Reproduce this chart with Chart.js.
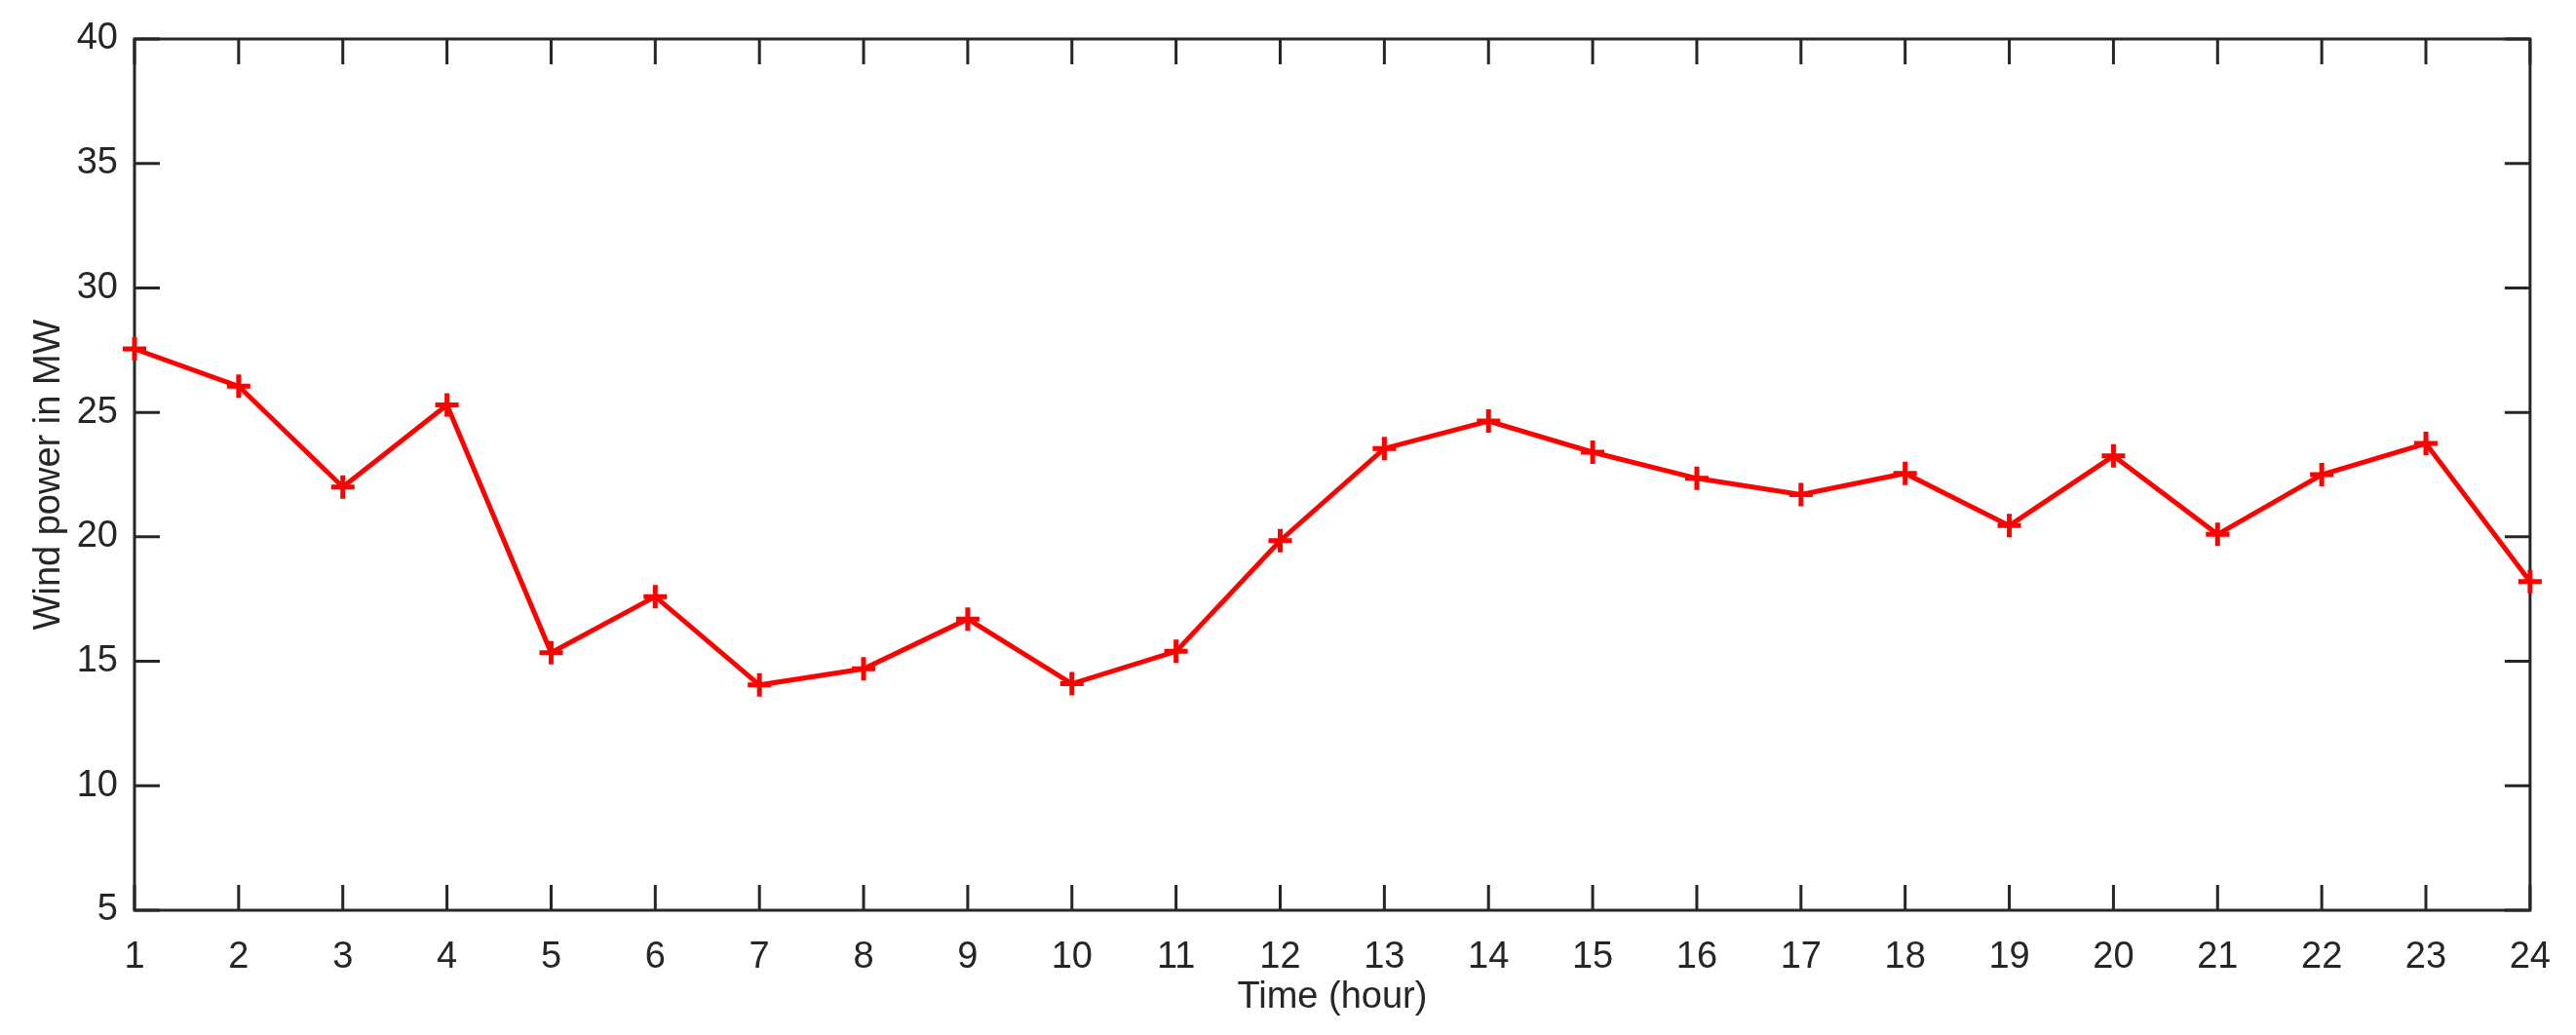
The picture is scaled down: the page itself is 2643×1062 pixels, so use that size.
<!DOCTYPE html>
<html>
<head>
<meta charset="utf-8">
<script src="https://cdn.jsdelivr.net/npm/chart.js@4"></script>
<style>
  html, body { margin: 0; padding: 0; background: #fff; }
</style>
</head>
<body>
<canvas id="lineChart" width="2643" height="1062"></canvas>
<script>
// hourly wind power
const hours = [1, 2, 3, 4, 5, 6, 7, 8, 9, 10, 11, 12, 13, 14, 15, 16, 17, 18, 19, 20, 21, 22, 23, 24];
const windPower = [27.55, 26.05, 22.0, 25.3, 15.35, 17.6, 14.05, 14.7, 16.7, 14.1, 15.4, 19.85,
                   23.55, 24.65, 23.4, 22.35, 21.7, 22.55, 20.45, 23.25, 20.1, 22.5, 23.75, 18.2];
const yTicks = [5, 10, 15, 20, 25, 30, 35, 40];

const axisColor = '#262626';
const tickLen = 26;

// MATLAB style box with inward ticks on all four sides
const boxPlugin = {
  id: 'box',
  beforeDatasetsDraw(chart) {
    const { ctx, chartArea: a, scales: { x, y } } = chart;
    ctx.save();
    ctx.strokeStyle = axisColor;
    ctx.lineWidth = 3;
    ctx.strokeRect(a.left, a.top, a.right - a.left, a.bottom - a.top);
    ctx.beginPath();
    x.ticks.forEach(t => {
      const px = x.getPixelForValue(t.value);
      ctx.moveTo(px, a.bottom); ctx.lineTo(px, a.bottom - tickLen);
      ctx.moveTo(px, a.top); ctx.lineTo(px, a.top + tickLen);
    });
    y.ticks.forEach(t => {
      const py = y.getPixelForValue(t.value);
      ctx.moveTo(a.left, py); ctx.lineTo(a.left + tickLen, py);
      ctx.moveTo(a.right, py); ctx.lineTo(a.right - tickLen, py);
    });
    ctx.stroke();
    ctx.restore();
  }
};

Chart.defaults.font.family = '"Liberation Sans", Arial, Helvetica, sans-serif';
Chart.defaults.color = axisColor;

new Chart(document.getElementById('lineChart').getContext('2d'), {
  type: 'line',
  data: {
    datasets: [{
      label: 'Wind power',
      data: hours.map((h, i) => ({ x: h, y: windPower[i] })),
      borderColor: '#ff0000',
      backgroundColor: '#ff0000',
      borderWidth: 5,
      pointStyle: 'cross',
      pointRadius: 12,
      pointBorderWidth: 5,
      pointBorderColor: '#ff0000',
      tension: 0,
      clip: false
    }]
  },
  options: {
    responsive: false,
    devicePixelRatio: 1,
    animation: false,
    layout: { padding: { top: 40, right: 47, left: 0, bottom: 0 } },
    plugins: {
      legend: { display: false },
      tooltip: { enabled: false }
    },
    scales: {
      x: {
        type: 'linear',
        min: 1, max: 24,
        afterFit: s => { s.height = 128; },
        afterBuildTicks: s => { s.ticks = hours.map(v => ({ value: v })); },
        ticks: { padding: 26, font: { size: 38 }, color: axisColor, maxRotation: 0, autoSkip: false },
        grid: { display: false, drawTicks: false },
        border: { display: false },
        title: { display: true, text: 'Time (hour)', font: { size: 38, lineHeight: 1 }, color: axisColor, padding: { top: 0, bottom: 19 } }
      },
      y: {
        min: 5, max: 40,
        afterFit: s => { s.width = 138; },
        afterBuildTicks: s => { s.ticks = yTicks.map(v => ({ value: v })); },
        ticks: { padding: 17, font: { size: 38 }, color: axisColor },
        grid: { display: false, drawTicks: false },
        border: { display: false },
        title: { display: true, text: 'Wind power in MW', font: { size: 38, lineHeight: 1 }, color: axisColor, padding: { top: 32, bottom: 0 } }
      }
    }
  },
  plugins: [boxPlugin]
});
</script>
</body>
</html>
